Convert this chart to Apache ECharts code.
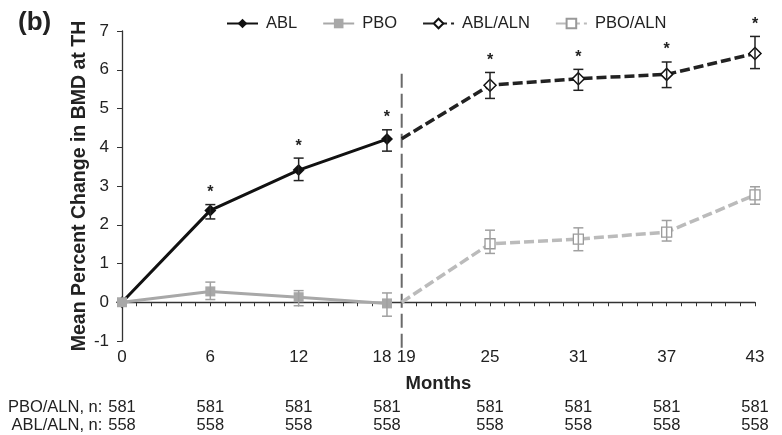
<!DOCTYPE html>
<html>
<head>
<meta charset="utf-8">
<script src="https://cdn.jsdelivr.net/npm/echarts@6/dist/echarts.min.js"></script>
<style>
  html, body { margin: 0; padding: 0; background: #fff; }
  #chart { width: 782px; height: 435px; }
</style>
</head>
<body>
<div id="chart"></div>
<script>
// months shown on the axis
const monthTicks = [0, 6, 12, 18, 19, 25, 31, 37, 43];

// phase 1 (0-18 months)
const months1 = [0, 6, 12, 18];
const ablMean = [0, 2.37, 3.41, 4.21];
const ablLow = [null, 2.15, 3.14, 3.90];
const ablHigh = [null, 2.52, 3.72, 4.45];
const pboMean = [0, 0.28, 0.13, -0.03];
const pboLow = [null, 0.07, -0.09, -0.36];
const pboHigh = [null, 0.52, 0.30, 0.24];

// phase 2 (19-43 months)
const months2 = [19, 25, 31, 37, 43];
const ablAlnMean = [4.22, 5.60, 5.77, 5.88, 6.42];
const ablAlnLow = [null, 5.26, 5.47, 5.54, 6.03];
const ablAlnHigh = [null, 5.93, 6.01, 6.20, 6.86];
const pboAlnMean = [0, 1.51, 1.63, 1.81, 2.77];
const pboAlnLow = [null, 1.26, 1.33, 1.58, 2.53];
const pboAlnHigh = [null, 1.86, 1.92, 2.11, 2.98];

// significance markers
const starMonths = [6, 12, 18, 25, 31, 37, 43];

// switch line between the two phases
const switchMonth = 19;
const switchRange = [5.9, -1.22];

// numbers at risk
const nMonths = [0, 6, 12, 18, 25, 31, 37, 43];
const nPboAln = [581, 581, 581, 581, 581, 581, 581, 581];
const nAblAln = [558, 558, 558, 558, 558, 558, 558, 558];

const textColor = '#222';
const fontFamily = 'Liberation Sans, Arial, sans-serif';

function lineData(xs, ys, hideFirst) {
    return xs.map((x, i) => {
        if (hideFirst && i === 0) return {value: [x, ys[i]], symbol: 'none'};
        return [x, ys[i]];
    });
}

function errData(xs, lows, highs) {
    let out = [];
    xs.forEach((x, i) => {
        if (lows[i] !== null) out.push([x, lows[i], highs[i], starMonths.includes(x) ? 1 : 0]);
    });
    return out;
}

function errorBars(color, stars) {
    return function (params, api) {
        let lo = api.coord([api.value(0), api.value(1)]);
        let hi = api.coord([api.value(0), api.value(2)]);
        let w = 5;
        let style = {stroke: color, lineWidth: 1.5};
        let children = [
            {type: 'line', shape: {x1: lo[0], y1: lo[1], x2: hi[0], y2: hi[1]}, style: style},
            {type: 'line', shape: {x1: lo[0] - w, y1: lo[1], x2: lo[0] + w, y2: lo[1]}, style: style},
            {type: 'line', shape: {x1: hi[0] - w, y1: hi[1], x2: hi[0] + w, y2: hi[1]}, style: style}
        ];
        if (stars && api.value(3) === 1) {
            children.push({
                type: 'text',
                style: {
                    x: hi[0], y: hi[1] - 4, text: '*',
                    fill: textColor, font: 'bold 16px ' + fontFamily,
                    align: 'center', verticalAlign: 'bottom'
                }
            });
        }
        return {type: 'group', children: children};
    };
}

function tableAxis(name, values, offset) {
    return {
        type: 'value', min: 0, max: 43, interval: 1,
        position: 'bottom', offset: offset,
        axisLine: {show: false, onZero: false},
        axisTick: {show: false},
        splitLine: {show: false},
        axisLabel: {
            color: textColor, fontSize: 16.5, fontFamily: fontFamily, margin: 0,
            formatter: v => {
                let i = nMonths.indexOf(v);
                return i >= 0 ? String(values[i]) : '';
            }
        },
        name: name, nameLocation: 'start', nameGap: 10,
        nameTextStyle: {color: textColor, fontSize: 16.5, fontFamily: fontFamily, align: 'right', verticalAlign: 'top'}
    };
}

let chartDom = document.getElementById('chart');
let myChart = echarts.init(chartDom);

let option = {
    animation: false,
    backgroundColor: '#fff',
    title: {
        text: '(b)', left: 13, top: 5,
        textStyle: {fontSize: 26, fontWeight: 'bold', color: textColor, fontFamily: fontFamily}
    },
    legend: {
        data: ['ABL', 'PBO', 'ABL/ALN', 'PBO/ALN'],
        left: 221, top: 10,
        itemWidth: 31, itemHeight: 12, itemGap: 25,
        textStyle: {fontSize: 16.5, color: textColor, fontFamily: fontFamily, padding: [0, 0, 0, 3]}
    },
    grid: {left: 122, right: 27, top: 31, bottom: 94, containLabel: false},
    xAxis: [
        {
            type: 'value', min: 0, max: 43, interval: 1,
            axisLine: {onZero: true, lineStyle: {color: '#333', width: 1.3}},
            axisTick: {length: 4, lineStyle: {color: '#333'}},
            axisLabel: {show: false},
            splitLine: {show: false}
        },
        {
            type: 'value', min: 0, max: 43, interval: 1,
            position: 'bottom',
            axisLine: {show: false, onZero: false},
            axisTick: {show: false},
            splitLine: {show: false},
            axisLabel: {
                color: textColor, fontSize: 17, fontFamily: fontFamily, margin: 8,
                formatter: v => {
                    if (v === 18) return '{l|18}';
                    if (v === 19) return '{r|19}';
                    return monthTicks.includes(v) ? String(v) : '';
                },
                rich: {
                    l: {fontSize: 17, fontFamily: fontFamily, color: textColor, padding: [0, 10, 0, 0]},
                    r: {fontSize: 17, fontFamily: fontFamily, color: textColor, padding: [0, 0, 0, 9]}
                }
            },
            name: 'Months', nameLocation: 'middle', nameGap: 33,
            nameTextStyle: {color: textColor, fontSize: 18.5, fontWeight: 'bold', fontFamily: fontFamily}
        },
        tableAxis('PBO/ALN, n:', nPboAln, 58),
        tableAxis('ABL/ALN, n:', nAblAln, 76)
    ],
    yAxis: {
        type: 'value', min: -1, max: 7, interval: 1,
        axisLine: {show: true, lineStyle: {color: '#333', width: 1.3}},
        axisTick: {show: true, length: 5, lineStyle: {color: '#333'}},
        splitLine: {show: false},
        axisLabel: {color: textColor, fontSize: 17, fontFamily: fontFamily, margin: 13},
        name: 'Mean Percent Change in BMD at TH',
        nameLocation: 'middle', nameGap: 32, nameMoveOverlap: false,
        nameTextStyle: {color: textColor, fontSize: 19.5, fontWeight: 'bold', fontFamily: fontFamily}
    },
    series: [
        {
            name: 'ABL', type: 'line', data: lineData(months1, ablMean, false),
            symbol: 'diamond', symbolSize: 12,
            itemStyle: {color: '#111'},
            lineStyle: {color: '#111', width: 3},
            z: 3
        },
        {
            name: 'PBO', type: 'line', data: lineData(months1, pboMean, false),
            symbol: 'rect', symbolSize: 10,
            itemStyle: {color: '#a8a8a8'},
            lineStyle: {color: '#a8a8a8', width: 3},
            z: 4
        },
        {
            name: 'ABL/ALN', type: 'line', data: lineData(months2, ablAlnMean, true),
            symbol: 'diamond', symbolSize: 12,
            itemStyle: {color: '#fff', borderColor: '#111', borderWidth: 1.5},
            lineStyle: {color: '#222', width: 3.5, type: [10, 4]},
            z: 3
        },
        {
            name: 'PBO/ALN', type: 'line', data: lineData(months2, pboAlnMean, true),
            symbol: 'rect', symbolSize: 10,
            itemStyle: {color: '#fff', borderColor: '#999', borderWidth: 1.3},
            lineStyle: {color: '#bbb', width: 3.5, type: [10, 4]},
            z: 3
        },
        {
            name: 'switch', type: 'line', clip: false, silent: true,
            data: switchRange.map(y => [switchMonth, y]),
            symbol: 'none',
            lineStyle: {color: '#6a6a6a', width: 2, type: [14, 6]},
            z: 2
        },
        {
            type: 'custom', renderItem: errorBars('#222', true),
            data: errData(months1, ablLow, ablHigh), z: 5
        },
        {
            type: 'custom', renderItem: errorBars('#a0a0a0', false),
            data: errData(months1, pboLow, pboHigh), z: 5
        },
        {
            type: 'custom', renderItem: errorBars('#222', true),
            data: errData(months2, ablAlnLow, ablAlnHigh), z: 5
        },
        {
            type: 'custom', renderItem: errorBars('#a0a0a0', false),
            data: errData(months2, pboAlnLow, pboAlnHigh), z: 5
        }
    ]
};

myChart.setOption(option);
</script>
</body>
</html>
